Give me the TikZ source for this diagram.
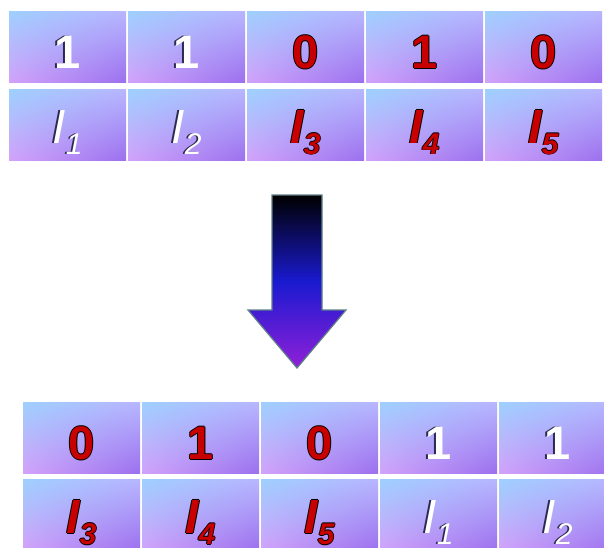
\documentclass[tikz,border=0pt]{standalone}
\usepackage{fontspec}
\usetikzlibrary{shadings}
\setmainfont{Liberation Sans}
\definecolor{cUL}{HTML}{9ED0FF}
\definecolor{cUR}{HTML}{B8B6FF}
\definecolor{cLL}{HTML}{D2A2FA}
\definecolor{cLR}{HTML}{9C70EE}
\definecolor{redtxt}{HTML}{C80000}
\definecolor{shadowblue}{HTML}{2A2A50}
\definecolor{arrowedge}{HTML}{5E8088}
\definecolor{arrowmid}{HTML}{1A1AD0}
\definecolor{arrowtip}{HTML}{9020D8}
\tikzset{
  cell/.style={minimum width=117pt, minimum height=71pt, inner sep=0pt,
    upper left=cUL, upper right=cUR, lower left=cLL, lower right=cLR},
  txt/.style={inner sep=0pt, anchor=base},
  wtxt/.style={txt, text=white},
  rtxt/.style={txt, text=redtxt},
  shtxt/.style={txt, text=shadowblue},
  bktxt/.style={txt, text=black},
  digit/.style={font=\bfseries\fontsize{47}{47}\selectfont},
}
\newcommand\Wcell[6]{% name, x, y, yoff, fontstyle, text
  \node[cell] (#1) at (#2,#3) {};
  \node[shtxt,#5] at ([xshift=-1.6pt,yshift=-#4pt]#1.center) {#6};
  \node[wtxt,#5] (#1-t) at ([yshift=-#4pt]#1.center) {#6};
}
\newcommand\Rcell[6]{%
  \node[cell] (#1) at (#2,#3) {};
  \foreach \dx/\dy in {-0.9/0,0.9/0,0/0.9,0/-0.9}
    \node[bktxt,#5] at ([xshift=\dx pt,yshift=-#4pt+\dy pt]#1.center) {#6};
  \node[rtxt,#5] (#1-t) at ([yshift=-#4pt]#1.center) {#6};
}
\newcommand\Wlab[1]{{\itshape\fontsize{48}{48}\selectfont I\raisebox{-11pt}{\fontsize{30}{30}\selectfont #1}}}
\newcommand\Rlab[1]{{\bfseries\itshape\fontsize{48}{48}\selectfont I\raisebox{-11pt}{\fontsize{30}{30}\selectfont #1}}}
\begin{document}
\begin{tikzpicture}[x=1pt,y=-1pt]
\useasboundingbox (0,0) rectangle (604,547);
\fill[white] (0,0) rectangle (604,547);
\clip (0,0) rectangle (604,547);
% top rows
\Wcell{a1}{67.5}{46.5}{22}{digit}{1}
\Wcell{a2}{186.5}{46.5}{22}{digit}{1}
\Rcell{a3}{305.5}{46.5}{22}{digit}{0}
\Rcell{a4}{424.5}{46.5}{22}{digit}{1}
\Rcell{a5}{543.5}{46.5}{22}{digit}{0}
\Wcell{b1}{67.5}{125}{18}{}{\Wlab{1}}
\Wcell{b2}{186.5}{125}{18}{}{\Wlab{2}}
\Rcell{b3}{305.5}{125}{18}{}{\Rlab{3}}
\Rcell{b4}{424.5}{125}{18}{}{\Rlab{4}}
\Rcell{b5}{543.5}{125}{18}{}{\Rlab{5}}
% arrow
\shade[top color=black, bottom color=arrowtip, middle color=arrowmid, draw=arrowedge, line width=1.2pt]
  (272,195) -- (322,195) -- (322,310) -- (346,310) -- (297,368) -- (248,310) -- (272,310) -- cycle;
% bottom rows
\Rcell{c1}{81.5}{437.5}{22}{digit}{0}
\Rcell{c2}{200.5}{437.5}{22}{digit}{1}
\Rcell{c3}{319.5}{437.5}{22}{digit}{0}
\Wcell{c4}{438.5}{437.5}{22}{digit}{1}
\Wcell{c5}{557.5}{437.5}{22}{digit}{1}
\Rcell{d1}{81.5}{514.5}{19}{}{\Rlab{3}}
\Rcell{d2}{200.5}{514.5}{19}{}{\Rlab{4}}
\Rcell{d3}{319.5}{514.5}{19}{}{\Rlab{5}}
\Wcell{d4}{438.5}{514.5}{19}{}{\Wlab{1}}
\Wcell{d5}{557.5}{514.5}{19}{}{\Wlab{2}}
\end{tikzpicture}
\end{document}
